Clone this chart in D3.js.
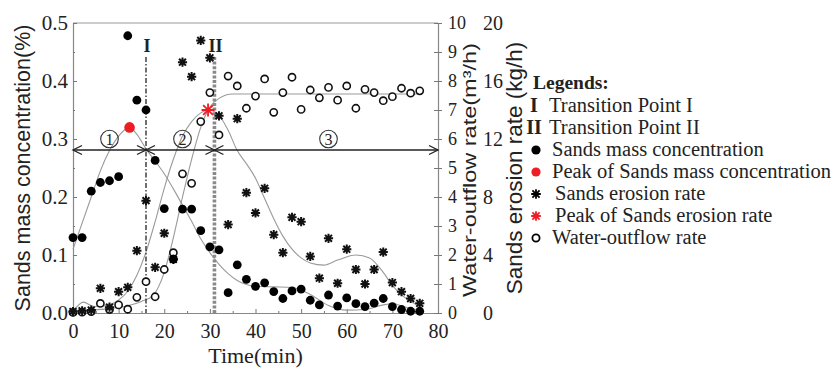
<!DOCTYPE html>
<html>
<head>
<meta charset="utf-8">
<script src="https://cdn.jsdelivr.net/npm/d3@7"></script>
<style>
  body { margin: 0; background: #fff; }
  svg { display: block; }
  .tick text { font-family: "Liberation Serif", serif; fill: #222; }
</style>
</head>
<body>
<svg id="chart" width="835" height="370"></svg>
<script>
// sampling times (min)
const time = [0, 2, 4, 6, 8, 10, 12, 14, 16, 18, 20, 22, 24, 26, 28, 30, 32, 34, 36, 38,
  40, 42, 44, 46, 48, 50, 52, 54, 56, 58, 60, 62, 64, 66, 68, 70, 72, 74, 76];

// sands mass concentration (%)
const massConc = [0.13, 0.13, 0.21, 0.225, 0.228, 0.235, 0.478, 0.367, 0.35, 0.263,
  0.18, 0.093, 0.179, 0.179, 0.142, 0.114, 0.109, 0.035, 0.083, 0.058,
  0.046, 0.052, 0.037, 0.025, 0.038, 0.041, 0.022, 0.014, 0.031, 0.012,
  0.026, 0.016, 0.011, 0.017, 0.025, 0.011, 0.006, 0.003, 0.003];

// sands erosion rate (kg/h)
const erosionRate = [0.1, 0.15, 0.2, 1.7, 0.4, 1.47, 1.77, 4.3, 7.75, 3.15,
  5.5, 3.7, 17.3, 16.3, 18.8, 17.6, 13.6, 6.1, 13.4, 8.3,
  6.9, 8.6, 5.4, 4.16, 6.6, 6.3, 3.9, 2.4, 5.15, 2.05,
  4.4, 3.0, 2.0, 3.0, 4.2, 2.1, 1.47, 1.0, 0.67];

// water-outflow rate (m3/h)
const waterOutflow = [0.02, 0.03, 0.05, 0.33, 0.12, 0.28, 0.13, 0.54, 1.08, 0.56,
  1.5, 2.08, 4.8, 4.47, 6.6, 7.6, 6.14, 8.17, 7.83, 7.06,
  7.48, 8.07, 6.92, 7.6, 8.13, 7.02, 7.69, 7.42, 7.78, 7.34,
  7.83, 7.06, 7.71, 7.6, 7.32, 7.46, 7.75, 7.58, 7.66];

// peaks of the fitted curves
const massPeak = [12.4, 0.32];
const erosionPeak = [29.6, 14];

// fitted curves [time, value]
const massFit = [[0, 0.11], [2, 0.155], [4, 0.2], [6, 0.245], [8, 0.28], [10, 0.305],
  [12.4, 0.32], [14, 0.308], [16, 0.283], [18, 0.262], [20, 0.24], [22, 0.214],
  [24, 0.186], [26, 0.158], [28, 0.128], [30, 0.104], [32, 0.084], [34, 0.068],
  [36, 0.056], [38, 0.049], [40, 0.046], [44, 0.045], [48, 0.044], [52, 0.032],
  [56, 0.013], [60, 0.005], [64, 0.006], [68, 0.014], [70, 0.016], [73, 0.01], [76, 0.004]];

const erosionFit = [[0, 0.1], [2.3, 0.75], [4.5, 0.45], [7, 0.5], [10, 0.9], [12, 1.5],
  [14, 2.6], [16, 4.2], [18, 6.3], [20, 8.6], [22, 10.6], [24, 12.2], [26, 13.2],
  [28, 13.8], [29.6, 14], [31.5, 13.8], [34, 12.6], [36, 11.2], [38, 10.3], [40, 9.3],
  [42, 7.9], [44, 6.5], [46, 5.3], [48, 4.4], [50, 3.8], [52, 3.45], [55, 3.3],
  [58, 3.65], [62, 4.0], [65, 3.8], [68, 2.8], [70, 1.9], [72, 1.25], [74, 0.8], [76, 0.45]];

const waterFit = [[0, 0.05], [4, 0.1], [8, 0.15], [12, 0.25], [15, 0.4], [17.5, 0.6],
  [20, 1.4], [22, 2.6], [24, 4.0], [26, 5.3], [28, 6.4], [30, 7.1], [32, 7.4],
  [35, 7.55], [40, 7.55], [50, 7.55], [60, 7.55], [70, 7.55], [76, 7.55]];

// transition points and stages
const transitions = [{ t: 16, label: "I" }, { t: 31, label: "II" }];
const stages = [
  { from: 0, to: 16, at: 8, label: "1" },
  { from: 16, to: 31, at: 24, label: "2" },
  { from: 31, to: 80, at: 56, label: "3" }
];
const stageLevel = 0.281;

// axis ticks
const xTicks = [0, 10, 20, 30, 40, 50, 60, 70, 80];
const massTicks = [0, 0.1, 0.2, 0.3, 0.4, 0.5];
const waterTicks = [0, 1, 2, 3, 4, 5, 6, 7, 8, 9, 10];
const erosionTicks = [0, 4, 8, 12, 16, 20];

const legendItems = [
  { sym: "I", label: "Transition Point I" },
  { sym: "II", label: "Transition Point II" },
  { sym: "dot", color: "#000", label: "Sands mass concentration" },
  { sym: "dot", color: "#ee1c24", label: "Peak of Sands mass concentration" },
  { sym: "star", color: "#000", label: "Sands erosion rate" },
  { sym: "star", color: "#ee1c24", label: "Peak of Sands erosion rate" },
  { sym: "ring", color: "#000", label: "Water-outflow rate" }
];

const RED = "#ee1c24";
const pL = 73, pR = 438, pT = 23, pB = 313;

const svg = d3.select("#chart");

const x = d3.scaleLinear().domain([0, 80]).range([pL, pR]);
const yM = d3.scaleLinear().domain([0, 0.5]).range([pB, pT]);
const yW = d3.scaleLinear().domain([0, 10]).range([pB, pT]);
const yE = d3.scaleLinear().domain([0, 20]).range([pB, pT]);

// frame top line
svg.append("line")
  .attr("x1", pL).attr("x2", pR).attr("y1", pT).attr("y2", pT)
  .attr("stroke", "#999").attr("stroke-width", 1.2);

function styleAxis(g, size) {
  g.select(".domain").attr("stroke", "#888").attr("stroke-width", 1.2);
  g.selectAll(".tick line").attr("stroke", "#777");
  g.selectAll(".tick text").attr("font-size", size);
}

// left axis
svg.append("g")
  .attr("transform", `translate(${pL},0)`)
  .call(d3.axisLeft(yM).tickValues(massTicks).tickFormat(d3.format(".1f"))
    .tickSizeInner(-4).tickSizeOuter(0).tickPadding(5))
  .call(g => styleAxis(g, 21));
svg.append("g")
  .attr("transform", `translate(${pL},0)`)
  .call(d3.axisLeft(yM).tickValues(massTicks.slice(0, -1).map(d => d + 0.05))
    .tickFormat("").tickSizeInner(-2).tickSizeOuter(0))
  .call(g => { g.select(".domain").remove(); g.selectAll("line").attr("stroke", "#777"); });

// bottom axis
svg.append("g")
  .attr("transform", `translate(0,${pB})`)
  .call(d3.axisBottom(x).tickValues(xTicks).tickSizeInner(-4).tickSizeOuter(0).tickPadding(11))
  .call(g => styleAxis(g, 20));
svg.append("g")
  .attr("transform", `translate(0,${pB})`)
  .call(d3.axisBottom(x).tickValues(xTicks.slice(0, -1).map(d => d + 5))
    .tickFormat("").tickSizeInner(-2).tickSizeOuter(0))
  .call(g => { g.select(".domain").remove(); g.selectAll("line").attr("stroke", "#777"); });

// right axis: water outflow
svg.append("g")
  .attr("transform", `translate(${pR},0)`)
  .call(d3.axisRight(yW).tickValues(waterTicks).tickSizeInner(4).tickSizeOuter(0).tickPadding(6))
  .call(g => styleAxis(g, 18));
svg.append("g")
  .attr("transform", `translate(${pR},0)`)
  .call(d3.axisRight(yW).tickValues(waterTicks).tickFormat("").tickSizeInner(-4).tickSizeOuter(0))
  .call(g => { g.select(".domain").remove(); g.selectAll("line").attr("stroke", "#777"); });

// second right axis: erosion rate (labels only)
svg.append("g")
  .attr("transform", `translate(483,0)`)
  .call(d3.axisRight(yE).tickValues(erosionTicks).tickSize(0).tickPadding(0))
  .call(g => { g.select(".domain").remove(); styleAxis(g, 20); });

// axis titles
svg.append("text")
  .attr("transform", "translate(22,168) rotate(-90)")
  .attr("text-anchor", "middle").attr("dy", "0.35em")
  .attr("font-family", "Liberation Sans, Arial, sans-serif").attr("font-size", 21.5)
  .attr("fill", "#222")
  .text("Sands mass concentration(%)");

svg.append("text")
  .attr("transform", "translate(470,170) rotate(-90)")
  .attr("text-anchor", "middle").attr("dy", "0.35em")
  .attr("font-family", "Liberation Sans, Arial, sans-serif").attr("font-size", 18)
  .attr("textLength", 254).attr("lengthAdjust", "spacingAndGlyphs")
  .attr("fill", "#222")
  .text("Water-outflow rate(m³/h)");

svg.append("text")
  .attr("transform", "translate(514,168) rotate(-90)")
  .attr("text-anchor", "middle").attr("dy", "0.35em")
  .attr("font-family", "Liberation Sans, Arial, sans-serif").attr("font-size", 22.5)
  .attr("fill", "#222")
  .text("Sands erosion rate (kg/h)");

svg.append("text")
  .attr("x", (pL + pR) / 2).attr("y", 363)
  .attr("text-anchor", "middle")
  .attr("font-family", "Liberation Serif, serif").attr("font-size", 22)
  .attr("fill", "#222")
  .text("Time(min)");

// fitted curves
const fitLine = (yScale) => d3.line()
  .x(d => x(d[0])).y(d => yScale(d[1]))
  .curve(d3.curveMonotoneX);

[[massFit, yM], [erosionFit, yE], [waterFit, yW]].forEach(([data, ys]) => {
  svg.append("path")
    .datum(data)
    .attr("d", fitLine(ys))
    .attr("fill", "none").attr("stroke", "#9a9a9a").attr("stroke-width", 1.1);
});

// transition lines
svg.append("line")
  .attr("x1", x(transitions[0].t)).attr("x2", x(transitions[0].t))
  .attr("y1", 57).attr("y2", pB)
  .attr("stroke", "#333").attr("stroke-width", 1.4)
  .attr("stroke-dasharray", "5,2,1.5,2");
svg.append("line")
  .attr("x1", x(transitions[1].t)).attr("x2", x(transitions[1].t))
  .attr("y1", 57).attr("y2", pB)
  .attr("stroke", "#8a8a8a").attr("stroke-width", 3.6)
  .attr("stroke-dasharray", "3,1.6");

svg.selectAll(".tlabel")
  .data(transitions)
  .join("text")
  .attr("class", "tlabel")
  .attr("x", d => x(d.t) + 1).attr("y", 52)
  .attr("text-anchor", "middle")
  .attr("font-family", "Liberation Serif, serif").attr("font-weight", "bold")
  .attr("font-size", 18).attr("fill", "#222")
  .text(d => d.label);

// stage arrows
const ya = yM(stageLevel);
const stageG = svg.append("g").attr("stroke", "#222").attr("stroke-width", 1.3).attr("fill", "none");
stages.forEach(s => {
  const x1 = x(s.from), x2 = x(s.to);
  stageG.append("line").attr("x1", x1).attr("x2", x2).attr("y1", ya).attr("y2", ya);
  stageG.append("path").attr("d", `M${x1 + 9},${ya - 4.5}L${x1},${ya}L${x1 + 9},${ya + 4.5}`);
  stageG.append("path").attr("d", `M${x2 - 9},${ya - 4.5}L${x2},${ya}L${x2 - 9},${ya + 4.5}`);
});
const stageLbl = svg.selectAll(".stage")
  .data(stages)
  .join("g")
  .attr("class", "stage")
  .attr("transform", d => `translate(${x(d.at)},${ya - 11})`);
stageLbl.append("circle")
  .attr("r", 8.8).attr("fill", "none").attr("stroke", "#333").attr("stroke-width", 1.1);
stageLbl.append("text")
  .attr("text-anchor", "middle").attr("dy", "0.36em")
  .attr("font-family", "Liberation Serif, serif").attr("font-size", 16)
  .attr("fill", "#222")
  .text(d => d.label);

// markers
function starPath(r) {
  const d = r * 0.75;
  return `M${-r},0L${r},0M0,${-r}L0,${r}M${-d},${-d}L${d},${d}M${-d},${d}L${d},${-d}`;
}

svg.append("g").selectAll("circle")
  .data(time.map((t, i) => [t, waterOutflow[i]]))
  .join("circle")
  .attr("cx", d => x(d[0])).attr("cy", d => yW(d[1]))
  .attr("r", 3.6).attr("fill", "#fff").attr("stroke", "#111").attr("stroke-width", 1.6);

svg.append("g").selectAll("path")
  .data(time.map((t, i) => [t, erosionRate[i]]))
  .join("path")
  .attr("transform", d => `translate(${x(d[0])},${yE(d[1])})`)
  .attr("d", starPath(4.6))
  .attr("stroke", "#111").attr("stroke-width", 2).attr("fill", "none");

svg.append("g").selectAll("circle")
  .data(time.map((t, i) => [t, massConc[i]]))
  .join("circle")
  .attr("cx", d => x(d[0])).attr("cy", d => yM(d[1]))
  .attr("r", 4.4).attr("fill", "#000");

svg.append("circle")
  .attr("cx", x(massPeak[0])).attr("cy", yM(massPeak[1]))
  .attr("r", 5.3).attr("fill", RED);

svg.append("path")
  .attr("transform", `translate(${x(erosionPeak[0])},${yE(erosionPeak[1])})`)
  .attr("d", starPath(6.5))
  .attr("stroke", RED).attr("stroke-width", 1.8).attr("fill", "none");

// legend
const lg = svg.append("g").attr("font-family", "Liberation Serif, serif").attr("fill", "#222");
lg.append("text").attr("x", 533).attr("y", 89)
  .attr("font-weight", "bold").attr("font-size", 19.5).text("Legends:");

legendItems.forEach((it, i) => {
  const yb = 112 + i * 22;
  const cy = yb - 6;
  let tx = 552;
  if (it.sym === "I" || it.sym === "II") {
    lg.append("text").attr("x", 534).attr("y", yb).attr("text-anchor", "middle")
      .attr("font-weight", "bold").attr("font-size", 20).text(it.sym);
    tx = 549;
  } else if (it.sym === "dot") {
    lg.append("circle").attr("cx", 536).attr("cy", cy).attr("r", 4.6).attr("fill", it.color);
  } else if (it.sym === "star") {
    lg.append("path").attr("transform", `translate(536,${cy})`)
      .attr("d", starPath(4.8)).attr("stroke", it.color).attr("stroke-width", 1.8).attr("fill", "none");
    tx = 555;
  } else {
    lg.append("circle").attr("cx", 536).attr("cy", cy).attr("r", 3.6)
      .attr("fill", "#fff").attr("stroke", it.color).attr("stroke-width", 1.8);
  }
  lg.append("text").attr("x", tx).attr("y", yb).attr("font-size", 20.5).text(it.label);
});
</script>
</body>
</html>
